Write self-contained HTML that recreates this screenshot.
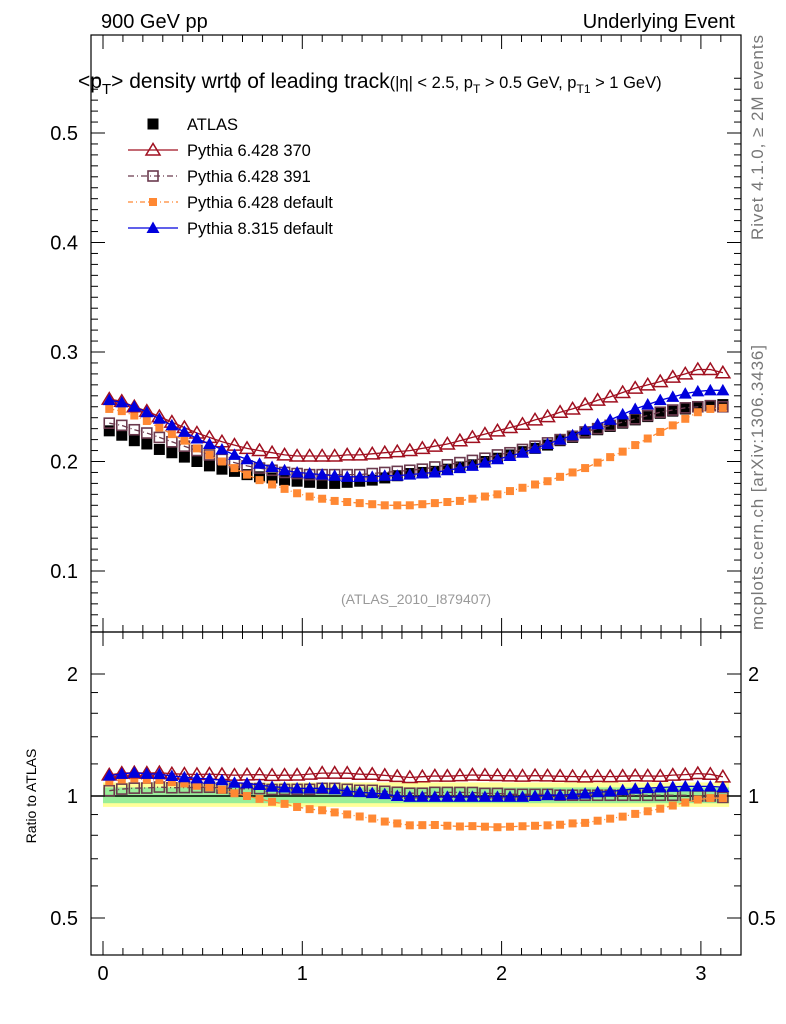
<!DOCTYPE html>
<html><head><meta charset="utf-8"><style>
body{margin:0;background:#fff}
svg{display:block;font-family:"Liberation Sans",sans-serif}
</style></head><body>
<svg id="c" width="786" height="1024" xmlns="http://www.w3.org/2000/svg">
<rect x="0" y="0" width="786" height="1024" fill="#fff"/>
<text x="101" y="28" font-size="20">900 GeV pp</text>
<text x="735" y="28" font-size="20" text-anchor="end">Underlying Event</text>
<text x="78" y="88" font-size="21">&lt;p<tspan font-size="15" dy="6">T</tspan><tspan dy="-6">&gt; density wrt</tspan>ϕ of leading track<tspan font-size="16.5">(|η| &lt; 2.5, p</tspan><tspan font-size="12" dy="5">T</tspan><tspan font-size="16.5" dy="-5"> &gt; 0.5 GeV, p</tspan><tspan font-size="12" dy="5">T1</tspan><tspan font-size="16.5" dy="-5"> &gt; 1 GeV)</tspan></text>
<text transform="translate(763,240) rotate(-90)" font-size="17" fill="#777" textLength="205">Rivet 4.1.0, ≥ 2M events</text>
<text transform="translate(763,630) rotate(-90)" font-size="17" fill="#777" textLength="285">mcplots.cern.ch [arXiv:1306.3436]</text>
<text x="416" y="604" font-size="14" fill="#999" text-anchor="middle">(ATLAS_2010_I879407)</text>
<text transform="translate(36,796) rotate(-90)" font-size="14" text-anchor="middle">Ratio to ATLAS</text>
<g id="bands"></g>
<g id="marks"></g>
<g id="axes"></g>
<g id="legend"></g>
</svg>
<script>
const xCenters=[];for(let i=0;i<50;i++)xCenters.push((i+0.5)*Math.PI/50);
const atlas=[0.228,0.224,0.219,0.216,0.211,0.208,0.204,0.200,0.196,0.193,0.191,0.188,0.186,0.185,0.183,0.182,0.181,0.180,0.180,0.181,0.182,0.183,0.185,0.187,0.189,0.190,0.191,0.193,0.195,0.197,0.200,0.203,0.206,0.209,0.212,0.215,0.219,0.222,0.226,0.229,0.232,0.235,0.238,0.241,0.244,0.246,0.248,0.250,0.251,0.252];
const py370=[0.257,0.255,0.250,0.246,0.241,0.236,0.231,0.226,0.222,0.218,0.215,0.212,0.210,0.208,0.206,0.205,0.205,0.205,0.205,0.206,0.206,0.207,0.208,0.209,0.210,0.212,0.214,0.216,0.219,0.222,0.225,0.228,0.231,0.234,0.238,0.241,0.245,0.248,0.252,0.256,0.259,0.263,0.267,0.270,0.273,0.277,0.280,0.284,0.284,0.281];
const py391=[0.235,0.233,0.229,0.226,0.222,0.218,0.214,0.210,0.206,0.202,0.199,0.196,0.194,0.192,0.190,0.189,0.188,0.188,0.188,0.188,0.188,0.189,0.190,0.191,0.192,0.193,0.195,0.197,0.199,0.201,0.203,0.206,0.208,0.211,0.214,0.217,0.220,0.223,0.227,0.230,0.233,0.236,0.239,0.242,0.245,0.247,0.249,0.250,0.251,0.250];
const pyDef=[0.248,0.246,0.242,0.237,0.231,0.225,0.219,0.212,0.206,0.200,0.194,0.188,0.183,0.179,0.175,0.171,0.168,0.166,0.164,0.163,0.162,0.161,0.160,0.160,0.160,0.161,0.162,0.163,0.164,0.166,0.168,0.170,0.173,0.176,0.179,0.182,0.186,0.190,0.194,0.199,0.204,0.209,0.215,0.221,0.227,0.233,0.239,0.245,0.248,0.249];
const py8=[0.256,0.254,0.250,0.245,0.239,0.233,0.227,0.221,0.216,0.211,0.206,0.202,0.198,0.195,0.192,0.190,0.189,0.188,0.187,0.186,0.186,0.186,0.187,0.187,0.188,0.189,0.190,0.192,0.194,0.196,0.199,0.202,0.205,0.208,0.212,0.216,0.220,0.224,0.229,0.234,0.238,0.243,0.248,0.252,0.256,0.259,0.262,0.264,0.265,0.265];
const yTicksMain=[0.1,0.2,0.3,0.4,0.5];
const yTicksRatio=[0.5,1,2];
const xTicks=[0,1,2,3];
const bandYellow=[0.94,1.08];
const bandGreen=[0.96,1.05];

const NS="http://www.w3.org/2000/svg";
const L=91,R=741,T=35,M=632,B=955;
const sx=v=>103+v*199.3;
const sy=v=>571-(v-0.1)*1095;
const sr=v=>796-Math.log2(v)*122;
function el(tag,attrs,parent){const e=document.createElementNS(NS,tag);for(const k in attrs)e.setAttribute(k,attrs[k]);parent.appendChild(e);return e;}
const bands=document.getElementById('bands'),marks=document.getElementById('marks'),axes=document.getElementById('axes'),leg=document.getElementById('legend');

let b=el('rect',{x:sx(0.0),y:sr(bandYellow[1]),width:sx(Math.PI)-sx(0),height:sr(bandYellow[0])-sr(bandYellow[1]),fill:'#ffff99'},bands);


b=el('rect',{x:sx(0.0),y:sr(bandGreen[1]),width:sx(Math.PI)-sx(0),height:sr(bandGreen[0])-sr(bandGreen[1]),fill:'#99ee99'},bands);


b=el('line',{x1:L,x2:R,y1:sr(1),y2:sr(1),stroke:'#000','stroke-width':1.5},bands);



function marker(g,type,x,y,col,name){
  let m;
  if(type==='sqf')m=el('rect',{x:x-5.5,y:y-5.5,width:11,height:11,fill:col},g);
  else if(type==='sqo')m=el('rect',{x:x-5,y:y-5,width:10,height:10,fill:'none',stroke:col,'stroke-width':1.6},g);
  else if(type==='sqs')m=el('rect',{x:x-4,y:y-4,width:8,height:8,fill:col},g);
  else if(type==='tro')m=el('polygon',{points:`${x},${y-6.5} ${x-7},${y+5} ${x+7},${y+5}`,fill:'none',stroke:col,'stroke-width':1.5},g);
  else m=el('polygon',{points:`${x},${y-6.5} ${x-6.5},${y+5} ${x+6.5},${y+5}`,fill:col},g);
  
  
}
const series=[
 {d:py391,col:'#6b3a4e',type:'sqo',dash:'6,3,1,3',name:'pythia-6428-391'},
 {d:pyDef,col:'#ff8833',type:'sqs',dash:'5,3,1,3',name:'pythia-6428-default'},
 {d:py370,col:'#a01020',type:'tro',dash:'',name:'pythia-6428-370'},
 {d:py8,col:'#0000dd',type:'trf',dash:'',name:'pythia-8315-default'}];
function drawSeries(vals,ys,s,panel){
  const g=el('g',{},marks);
  
  
  const pts=vals.map((v,i)=>sx(xCenters[i]).toFixed(1)+','+ys(v).toFixed(1)).join(' ');
  const pl=el('polyline',{points:pts,fill:'none',stroke:s.col,'stroke-width':1.3,'stroke-dasharray':s.dash},g);
  
  
  vals.forEach((v,i)=>marker(g,s.type,sx(xCenters[i]),ys(v),s.col,s.name+'-point'));
}
const gA=el('g',{},marks);


atlas.forEach((v,i)=>marker(gA,'sqf',sx(xCenters[i]),sy(v),'#000','atlas-point'));
series.forEach(s=>{
  drawSeries(s.d,sy,s,'main');
  drawSeries(s.d.map((v,i)=>v/atlas[i]),sr,s,'ratio');
});

let f=el('rect',{x:L,y:T,width:R-L,height:M-T,fill:'none',stroke:'#000','stroke-width':1.2},axes);


f=el('rect',{x:L,y:M,width:R-L,height:B-M,fill:'none',stroke:'#000','stroke-width':1.2},axes);


function tick(x1,y1,x2,y2){el('line',{x1,y1,x2,y2,stroke:'#000','stroke-width':1},axes);}
for(let k=5;k<=55;k++){const v=k/100,y=sy(v);if(y<T||y>M)continue;const maj=k%10===0;const len=maj?14:7;tick(L,y,L+len,y);tick(R,y,R-len,y);}
yTicksMain.forEach(v=>{const t=el('text',{x:78,y:sy(v)+7,'font-size':20,'text-anchor':'end'},axes);t.textContent=String(v);

});
[0.5,0.6,0.7,0.8,0.9,1,1.2,1.4,1.6,1.8,2].forEach(v=>{const y=sr(v);const maj=yTicksRatio.includes(v);const len=maj?14:7;tick(L,y,L+len,y);tick(R,y,R-len,y);});
yTicksRatio.forEach(v=>{const y=sr(v)+7;
 let t=el('text',{x:78,y,'font-size':20,'text-anchor':'end'},axes);t.textContent=String(v);
 
 
 t=el('text',{x:748,y,'font-size':20},axes);t.textContent=String(v);
 
 });
for(let k=0;k<=31;k++){const v=k/10,x=sx(v);const maj=k%10===0;const len=maj?14:7;
 tick(x,M,x,M-len);tick(x,T,x,T+len);tick(x,B,x,B-len);tick(x,M,x,M+len);}
xTicks.forEach(v=>{const t=el('text',{x:sx(v),y:980,'font-size':20,'text-anchor':'middle'},axes);t.textContent=String(v);

});

const legItems=[{n:'ATLAS',type:'sqf',col:'#000',dash:null},{n:'Pythia 6.428 370',type:'tro',col:'#a01020',dash:''},{n:'Pythia 6.428 391',type:'sqo',col:'#6b3a4e',dash:'6,3,1,3'},{n:'Pythia 6.428 default',type:'sqs',col:'#ff8833',dash:'5,3,1,3'},{n:'Pythia 8.315 default',type:'trf',col:'#0000dd',dash:''}];
legItems.forEach((it,i)=>{const y=124+i*26;const g=el('g',{},leg);
 
 
 if(it.dash!==null)el('line',{x1:128,x2:178,y1:y,y2:y,stroke:it.col,'stroke-width':1.3,'stroke-dasharray':it.dash},g);
 marker(g,it.type,153,y,it.col,'legend-marker');
 const t=el('text',{x:187,y:y+6,'font-size':16.5},g);t.textContent=it.n;});
</script>
</body></html>
